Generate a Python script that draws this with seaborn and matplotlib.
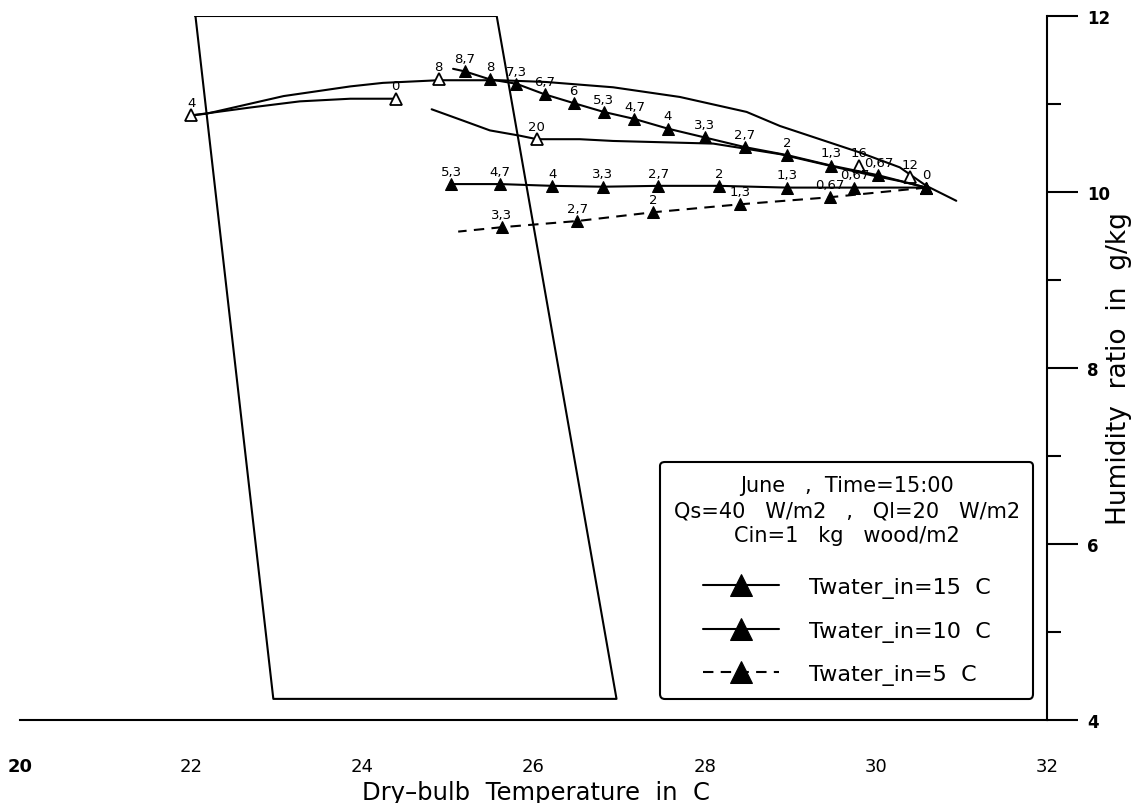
import matplotlib
matplotlib.use("Agg")
import matplotlib.pyplot as plt
import seaborn as sns
import numpy as np

sns.set_style("white")
plt.rcParams['font.family'] = ['DejaVu Sans']
plt.rcParams.update({"text.color": "black", "axes.labelcolor": "black",
                     "xtick.color": "black", "ytick.color": "black"})

# ---------------- data ----------------
# comfort-zone parallelogram (closed)
zone_T = [22.05, 25.57, 26.97, 22.96, 22.05]
zone_W = [12.0, 12.0, 4.24, 4.24, 12.0]

# Twater_in = 15 C (time labels in hours)
t15_T = [30.59, 30.03, 29.48, 28.96, 28.47, 28.00, 27.57, 27.18, 26.82, 26.47, 26.13, 25.80, 25.49, 25.20]
t15_W = [10.05, 10.19, 10.30, 10.42, 10.51, 10.62, 10.72, 10.83, 10.91, 11.01, 11.11, 11.23, 11.28, 11.37]
t15_lab = ["0", "0,67", "1,3", "2", "2,7", "3,3", "4", "4,7", "5,3", "6", "6,7", "7,3", "8", "8,7"]
t15_tail_T = [25.20, 25.06]
t15_tail_W = [11.37, 11.40]

# Twater_in = 10 C
t10_T = [30.59, 29.75, 28.96, 28.17, 27.46, 26.81, 26.22, 25.61, 25.04]
t10_W = [10.05, 10.05, 10.05, 10.07, 10.07, 10.06, 10.07, 10.09, 10.09]
t10_lab = ["", "0,67", "1,3", "2", "2,7", "3,3", "4", "4,7", "5,3"]

# Twater_in = 5 C
t5_T = [30.59, 29.46, 28.41, 27.40, 26.51, 25.63]
t5_W = [10.05, 9.94, 9.86, 9.77, 9.67, 9.60]
t5_lab = ["", "0,67", "1,3", "2", "2,7", "3,3"]
t5_tail_T = [25.63, 25.12]
t5_tail_W = [9.60, 9.55]

# daily cycle path without water (open markers)
loopA_T = [22.00, 22.18, 23.08, 23.86, 24.24, 24.89, 25.61, 26.15, 26.93, 27.71, 28.49, 28.88, 29.81, 30.28, 30.59, 30.94]
loopA_W = [10.87, 10.89, 11.09, 11.20, 11.24, 11.27, 11.27, 11.25, 11.19, 11.08, 10.91, 10.75, 10.45, 10.28, 10.07, 9.90]
loopB_T = [22.00, 22.69, 23.27, 23.86, 24.39]
loopB_W = [10.87, 10.96, 11.03, 11.06, 11.06]
loopC_T = [24.81, 25.18, 25.49, 25.84, 26.04, 26.54, 26.93, 28.10, 28.88, 29.50, 29.95, 30.30, 30.59]
loopC_W = [10.94, 10.81, 10.70, 10.64, 10.60, 10.60, 10.58, 10.55, 10.43, 10.29, 10.19, 10.12, 10.05]
open_T = [22.00, 24.39, 24.89, 26.04, 29.80, 30.40]
open_W = [10.87, 11.06, 11.28, 10.60, 10.30, 10.17]
open_lab = ["4", "0", "8", "20", "16", "12"]

x_ticks = [20, 22, 24, 26, 28, 30, 32]
y_ticks = [4, 6, 8, 10, 12]
legend_title = "June   ,  Time=15:00\nQs=40   W/m2   ,   Ql=20   W/m2\nCin=1   kg   wood/m2"
series_names = ["Twater_in=15  C", "Twater_in=10  C", "Twater_in=5  C"]

# ---------------- figure ----------------
W_PX, H_PX = 1140, 804
fig = plt.figure(figsize=(W_PX / 100, H_PX / 100), dpi=100)
x0, x1 = 20, 1047
y_top, y_bot = 17, 721
ax = fig.add_axes([x0 / W_PX, 1 - y_bot / H_PX, (x1 - x0) / W_PX, (y_bot - y_top) / H_PX])
ax.set_xlim(20, 32)
ax.set_ylim(4, 12)

lw = 1.5
k = dict(sort=False, estimator=None, color="black", linewidth=lw, ax=ax)

sns.lineplot(x=zone_T, y=zone_W, legend=False, **k)

sns.lineplot(x=loopA_T, y=loopA_W, legend=False, **k)
sns.lineplot(x=loopB_T, y=loopB_W, legend=False, **k)
sns.lineplot(x=loopC_T, y=loopC_W, legend=False, **k)
ax.plot(open_T, open_W, linestyle="none", marker="^", markersize=8,
        markerfacecolor="white", markeredgecolor="black", markeredgewidth=1.3)

dash = (0, (5, 3.5))
sns.lineplot(x=t15_T, y=t15_W, marker="^", markersize=8, markeredgecolor="black",
             label=series_names[0], **k)
sns.lineplot(x=t15_tail_T, y=t15_tail_W, legend=False, **k)
sns.lineplot(x=t10_T, y=t10_W, marker="^", markersize=8, markeredgecolor="black",
             label=series_names[1], **k)
sns.lineplot(x=t5_T, y=t5_W, marker="^", markersize=8, markeredgecolor="black",
             linestyle=dash, label=series_names[2], **k)
sns.lineplot(x=t5_tail_T, y=t5_tail_W, linestyle=dash, legend=False, **k)

lab_kw = dict(textcoords="offset points", ha="center", va="bottom", fontsize=9.5, color="black")
for xs, ys, ls in [(t15_T, t15_W, t15_lab), (t10_T, t10_W, t10_lab), (t5_T, t5_W, t5_lab),
                   (open_T, open_W, open_lab)]:
    for xv, yv, s in zip(xs, ys, ls):
        if s:
            ax.annotate(s, (xv, yv), xytext=(0, 4.5), **lab_kw)

# ---------------- axes styling ----------------
for side in ["top", "left"]:
    ax.spines[side].set_visible(False)
for side in ["bottom", "right"]:
    ax.spines[side].set_linewidth(lw)
    ax.spines[side].set_color("black")
ax.yaxis.tick_right()
ax.yaxis.set_label_position("right")
ax.set_xticks(x_ticks)
ax.set_xticks([21, 23, 25, 27, 29, 31], minor=True)
ax.set_yticks(y_ticks)
ax.set_yticks([5, 7, 9, 11], minor=True)
ax.tick_params(axis="x", which="major", direction="out", length=18, width=lw, pad=9, labelsize=13)
ax.tick_params(axis="x", which="minor", direction="out", length=6, width=lw)
ax.tick_params(axis="y", which="major", direction="out", length=22, width=lw, pad=7, labelsize=12,
               right=True, left=False)
ax.tick_params(axis="y", which="minor", direction="out", length=10, width=lw, right=True, left=False)
for t in ax.get_yticklabels():
    t.set_fontweight("bold")
ax.get_xticklabels()[0].set_fontweight("bold")

ax.set_xlabel("Dry\u2013bulb  Temperature  in  C", fontsize=17.5)
ax.xaxis.set_label_coords((536 - x0) / (x1 - x0), (y_bot - 781) / (y_bot - y_top))
ax.set_ylabel("Humidity  ratio  in  g/kg", fontsize=19)
ax.yaxis.set_label_coords((1106 - x0) / (x1 - x0), 0.50)

leg = ax.legend(title=legend_title, loc="upper right",
                bbox_to_anchor=(1033 / W_PX, 1 - 463 / H_PX), bbox_transform=fig.transFigure,
                borderaxespad=0, fontsize=16, title_fontsize=15, markerscale=2.0,
                handlelength=3.4, handletextpad=1.35, labelspacing=1.02,
                frameon=True, fancybox=True, edgecolor="black", framealpha=1,
                borderpad=0.6, labelcolor="black")
leg.get_frame().set_linewidth(lw)
leg.get_title().set_multialignment("center")
leg.get_title().set_linespacing(1.3)
leg.get_title().set_color("black")
leg._legend_box.sep = 23

fig.savefig("out.png", dpi=100)
